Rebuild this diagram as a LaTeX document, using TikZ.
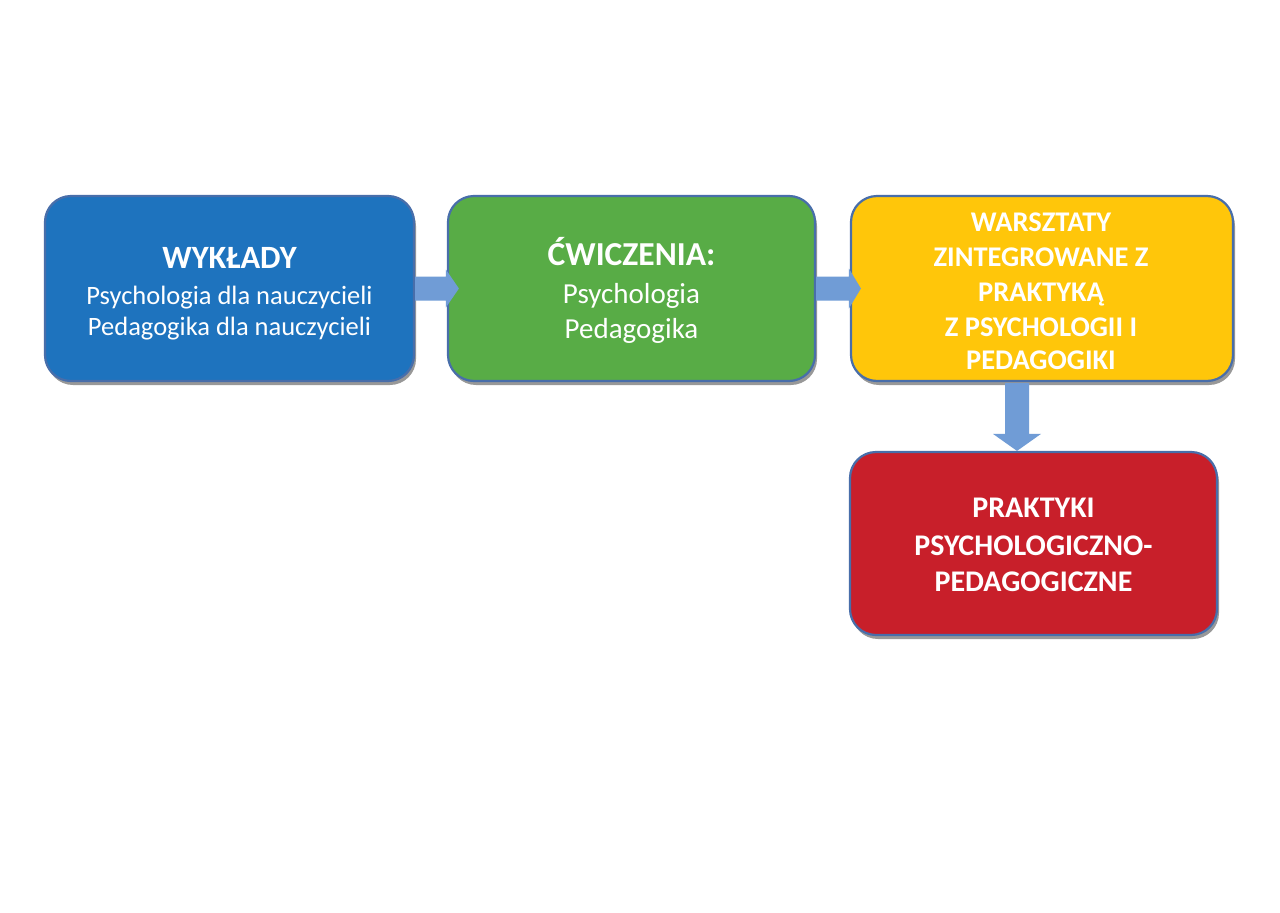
\documentclass[tikz,border=0pt]{standalone}
\usepackage{fontspec}
\setmainfont{Carlito}
\usetikzlibrary{shadows,calc}
\definecolor{cblue}{RGB}{30,115,190}
\definecolor{cgreen}{RGB}{88,172,70}
\definecolor{cyellow}{RGB}{255,198,10}
\definecolor{cred}{RGB}{200,31,42}
\definecolor{cborder}{RGB}{72,110,170}
\definecolor{carrow}{RGB}{112,156,214}
\tikzset{
  boxnode/.style={draw=cborder, line width=2.2pt, rounded corners=26pt, inner sep=0pt,
    drop shadow={shadow xshift=2pt, shadow yshift=-4pt, opacity=0.5, fill=black!80}},
  arrowfill/.style={fill=carrow, draw=none},
  txt/.style={text=white, inner sep=0pt, anchor=base},
  ttl/.style={txt, font=\fontsize{#1}{#1}\selectfont\bfseries},
  reg/.style={txt, font=\fontsize{#1}{#1}\selectfont},
}
\begin{document}
\begin{tikzpicture}[x=1pt,y=-1pt]
\useasboundingbox[fill=white] (0,0) rectangle (1280,913);
% boxes
\node[boxnode, fill=cblue, minimum width=369pt, minimum height=185pt] (b1) at (229.5,288.5) {};
\node[boxnode, fill=cgreen, minimum width=367pt, minimum height=185pt] (b2) at (631.5,288.5) {};
\node[boxnode, fill=cyellow, minimum width=382pt, minimum height=185pt] (b3) at (1042,288.5) {};
\node[boxnode, fill=cred, minimum width=367pt, minimum height=183pt] (b4) at (1033.5,543.5) {};
% texts
\node[ttl=32.5] (t1a) at ($(b1.center)+(0,-20)$) {WYKŁADY};
\node[reg=26.5] (t1b) at ($(b1.center)+(0,15.5)$) {Psychologia dla nauczycieli};
\node[reg=26.5] (t1c) at ($(b1.center)+(0,47)$) {Pedagogika dla nauczycieli};
\node[ttl=33.5] (t2a) at ($(b2.center)+(0,-22.7)$) {ĆWICZENIA:};
\node[reg=29] (t2b) at ($(b2.center)+(0,14.8)$) {Psychologia};
\node[reg=29] (t2c) at ($(b2.center)+(0,49.8)$) {Pedagogika};
\node[ttl=28.5] (t3a) at ($(b3.center)+(-1,-57.3)$) {WARSZTATY};
\node[ttl=28.5] (t3b) at ($(b3.center)+(-1,-22.3)$) {ZINTEGROWANE Z};
\node[ttl=28.5] (t3c) at ($(b3.center)+(-1,12.7)$) {PRAKTYKĄ};
\node[ttl=28.5] (t3d) at ($(b3.center)+(-1,47.7)$) {Z PSYCHOLOGII I};
\node[ttl=28.5] (t3e) at ($(b3.center)+(-1,80.7)$) {PEDAGOGIKI};
\node[ttl=30] (t4a) at ($(b4.center)+(0,-25.8)$) {PRAKTYKI};
\node[ttl=30] (t4b) at ($(b4.center)+(0,12.2)$) {PSYCHOLOGICZNO-};
\node[ttl=30] (t4c) at ($(b4.center)+(0,48.2)$) {PEDAGOGICZNE};
% arrows
\fill[arrowfill] ($(b1.east)+(0,-12)$) -- ($(b2.west)+(-1,-12)$) -- ($(b2.west)+(-1,-19)$)
  -- ($(b2.west)+(12,0)$) -- ($(b2.west)+(-1,19)$) -- ($(b2.west)+(-1,12)$) -- ($(b1.east)+(0,12)$) -- cycle;
\fill[arrowfill] ($(b2.east)+(0,-12)$) -- ($(b3.west)+(-1,-12)$) -- ($(b3.west)+(-1,-20)$)
  -- ($(b3.west)+(11,0)$) -- ($(b3.west)+(-1,20)$) -- ($(b3.west)+(-1,12)$) -- ($(b2.east)+(0,12)$) -- cycle;
\coordinate (vtop) at ($(b3.south)+(-25,0)$);
\coordinate (vtip) at ($(b4.north)+(-16.5,0)$);
\fill[arrowfill] ($(vtop)+(-12,1)$) -- ($(vtip)+(-12,-17)$) -- ($(vtip)+(-24,-17)$) -- (vtip)
  -- ($(vtip)+(24,-17)$) -- ($(vtip)+(12,-17)$) -- ($(vtop)+(12,1)$) -- cycle;
\end{tikzpicture}
\end{document}
